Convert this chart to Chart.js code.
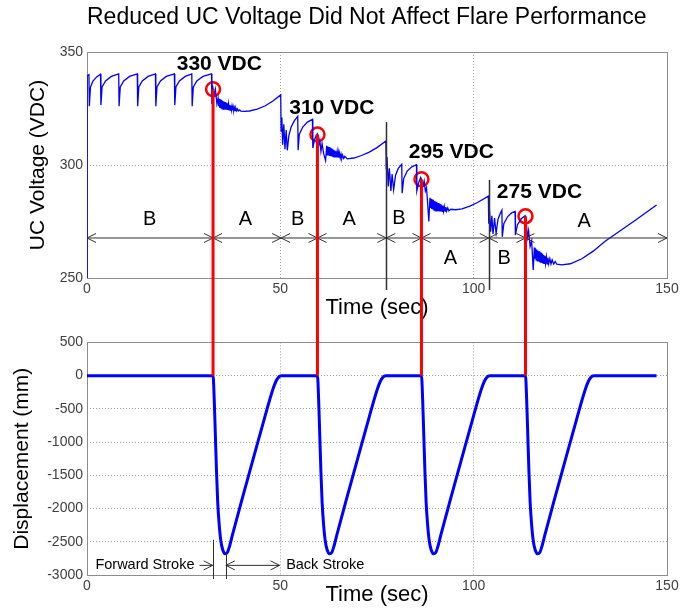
<!DOCTYPE html>
<html>
<head>
<meta charset="utf-8">
<title>Reduced UC Voltage Did Not Affect Flare Performance</title>
<script src="https://cdn.jsdelivr.net/npm/chart.js@4.4.1/dist/chart.umd.min.js"></script>
<style>
  body { margin: 0; background: #fff; }
  #wrap { position: relative; width: 683px; height: 608px; }
  #wrap canvas { position: absolute; left: 0; }
</style>
</head>
<body>
<div id="wrap">
  <canvas id="voltChart" width="683" height="330" style="top:0"></canvas>
  <canvas id="dispChart" width="683" height="278" style="top:330px"></canvas>
</div>
<script>
// Ultracapacitor voltage trace, [time (sec), voltage (VDC)]
const voltageTrace = [
  [0, 250], [0.05, 339.5],
  [0.5, 340], [0.6, 326], [0.9, 334.5], [1.5, 337], [2.5, 339],
  [3.5, 340.2], [3.6, 326.5], [3.9, 334.5], [4.8, 337.2], [6.3, 339.2],
  [8.2, 340.3], [8.3, 326], [8.6, 334.5], [9.5, 337.2], [11, 339.2],
  [13, 340.3], [13.1, 326], [13.4, 334.5], [14.3, 337.2], [15.8, 339.2],
  [17.7, 340.3], [17.8, 326], [18.1, 334.5], [19, 337.2], [20.5, 339.2],
  [22.6, 340.3], [22.7, 326.5], [23, 334.5], [23.9, 337.2], [25.4, 339.2],
  [27.1, 340.3], [27.2, 326], [27.5, 334.5], [28.4, 337.2], [30, 339.2],
  [32.2, 340.3], [32.3, 327], [32.6, 333.8], [32.9, 331], [33.2, 333.5], [33.6, 327],
  [33.9, 329.5], [34.05, 326], [34.2, 329.2], [34.35, 325.2], [34.5, 329], [34.65, 325],
  [34.8, 328.7], [34.95, 324.8], [35.1, 328.4], [35.25, 324.7], [35.4, 328.1], [35.55, 324.6],
  [35.7, 327.8], [35.85, 324.5], [36, 327.5], [36.15, 324.5], [36.3, 327.2], [36.45, 324.4],
  [36.6, 326.9], [36.75, 324.4], [36.9, 326.6], [37.05, 324.3], [37.2, 326.3], [37.35, 324.3],
  [37.5, 326], [37.65, 324.2], [37.8, 325.7], [37.95, 324.2], [38.1, 325.4], [38.3, 324.1],
  [38.5, 325.1], [38.7, 324], [38.9, 324.8], [39.2, 323.9], [39.5, 324.4], [39.8, 323.8],
  [40.7, 323.7], [42, 323.9], [44, 324.7], [46, 326.1], [48, 328.2], [50.1, 331],
  [50.2, 315], [50.4, 321], [50.6, 309], [50.9, 318], [51.2, 307], [51.5, 315.5],
  [51.8, 306.5], [52.2, 313], [52.8, 316.8], [53.6, 319.5], [54.5, 321.5], [54.6, 306.5],
  [54.9, 313.5], [55.8, 316.8], [57, 319], [58.3, 320.2], [58.4, 307.5], [58.8, 311],
  [59.3, 313.2], [59.6, 313.8], [59.9, 308.5], [60.2, 311], [60.5, 306], [60.8, 309.5],
  [61.2, 305], [61.7, 302],
  [62, 308.5], [62.15, 304.5], [62.3, 308.2], [62.45, 304.2], [62.6, 307.9], [62.75, 304],
  [62.9, 307.6], [63.05, 303.9], [63.2, 307.3], [63.35, 303.8], [63.5, 307], [63.65, 303.7],
  [63.8, 306.7], [63.95, 303.6], [64.1, 306.4], [64.25, 303.5], [64.4, 306.1], [64.55, 303.4],
  [64.7, 305.8], [64.85, 303.3], [65, 305.5], [65.15, 303.2], [65.3, 305.2], [65.5, 303.1],
  [65.7, 304.8], [65.9, 303], [66.1, 304.4], [66.4, 302.9], [66.7, 303.8],
  [67.3, 302.7], [69, 303.1], [71, 304.2], [73, 305.7], [75, 307.7], [77.3, 310.6],
  [77.4, 298], [77.6, 303.5], [77.9, 290.5], [78.2, 298.5], [78.6, 288.5], [78.9, 296],
  [79.3, 289], [79.8, 295.5], [80.5, 298.5], [81.4, 300.3], [81.5, 287.5], [81.9, 294],
  [82.8, 297.3], [84, 299.2], [85.2, 300.1], [85.3, 288.5], [85.8, 292.3], [86.3, 294.5],
  [86.6, 293.2], [86.9, 291], [87.2, 293], [87.5, 288.5], [87.8, 290], [88.1, 283],
  [88.4, 275],
  [88.7, 285.5], [88.85, 281], [89, 285], [89.15, 280.6], [89.3, 284.7], [89.45, 280.3],
  [89.6, 284.4], [89.75, 280], [89.9, 284.1], [90.05, 279.8], [90.2, 283.8], [90.35, 279.7],
  [90.5, 283.5], [90.65, 279.6], [90.8, 283.2], [90.95, 279.5], [91.1, 282.9], [91.25, 279.5],
  [91.4, 282.6], [91.55, 279.5], [91.7, 282.3], [91.85, 279.5], [92, 282], [92.2, 279.5],
  [92.4, 281.7], [92.6, 279.6], [92.8, 281.4], [93, 279.6], [93.3, 281], [93.6, 279.7],
  [94.1, 280.4], [95.3, 280.2], [97, 280.6], [99, 281.8], [101, 283.4], [103.8, 286.2],
  [103.9, 274], [104.1, 280], [104.4, 270.5], [104.7, 277.5], [105, 269.5], [105.4, 276.5],
  [105.8, 269.8], [106.3, 276], [106.9, 278.6], [107.3, 280], [107.4, 268.3], [107.8, 274],
  [108.8, 277.2], [109.8, 278.8], [110.7, 279.4], [110.8, 269], [111.3, 273.5], [112.3, 276.2],
  [113.3, 277.6], [113.6, 275], [113.9, 268], [114.2, 271], [114.6, 264], [115, 266.5],
  [115.4, 253.5],
  [115.7, 263.5], [115.85, 258.5], [116, 263], [116.15, 258], [116.3, 262.6], [116.45, 257.6],
  [116.6, 262.2], [116.75, 257.3], [116.9, 261.8], [117.05, 257], [117.2, 261.4], [117.35, 256.8],
  [117.5, 261], [117.65, 256.7], [117.8, 260.6], [117.95, 256.6], [118.1, 260.2], [118.25, 256.5],
  [118.4, 259.8], [118.6, 256.4], [118.8, 259.4], [119, 256.3], [119.2, 259], [119.4, 256.3],
  [119.7, 258.5], [120, 256.2], [120.3, 258], [120.7, 256.2], [121.1, 257.3],
  [121.5, 256.1], [122.8, 255.8], [125, 256.3], [128, 258.5],
  [131, 262], [134, 266.3], [138, 271], [142, 275.8], [147.3, 282.3]
];

// Actuator displacement trace, [time (sec), displacement (mm)]
const displacementTrace = [
  [0, 0], [32.6, 0], [32.9, -350], [33.2, -900], [33.5, -1450], [33.8, -1900], [34.2, -2250],
  [34.6, -2480], [35.1, -2620], [35.7, -2680], [36.3, -2660], [36.9, -2560], [37.6, -2400],
  [40, -1880], [43, -1250], [46, -620], [48, -220], [49, -70], [49.8, -10], [50.4, 0],
  [59.6, 0], [59.9, -350], [60.2, -900], [60.5, -1450], [60.8, -1900], [61.2, -2250],
  [61.6, -2480], [62.1, -2620], [62.7, -2680], [63.3, -2660], [63.9, -2560], [64.6, -2400],
  [67, -1880], [70, -1250], [73, -620], [75, -220], [76, -70], [76.8, -10], [77.4, 0],
  [86.5, 0], [86.8, -350], [87.1, -900], [87.4, -1450], [87.7, -1900], [88.1, -2250],
  [88.5, -2480], [89, -2620], [89.6, -2680], [90.2, -2660], [90.8, -2560], [91.5, -2400],
  [93.9, -1880], [96.9, -1250], [99.9, -620], [101.9, -220], [102.9, -70], [103.7, -10], [104.3, 0],
  [113.4, 0], [113.7, -350], [114, -900], [114.3, -1450], [114.6, -1900], [115, -2250],
  [115.4, -2480], [115.9, -2620], [116.5, -2680], [117.1, -2660], [117.7, -2560], [118.4, -2400],
  [120.8, -1880], [123.8, -1250], [126.8, -620], [128.8, -220], [129.8, -70], [130.6, -10],
  [131.2, 0], [147.3, 0]
];

// Flare events (circled on the voltage trace)
const eventTime = [32.6, 59.6, 86.5, 113.4];
const eventVolt = [333.5, 313.5, 293.7, 277.3];
const eventLabels = ['330 VDC', '310 VDC', '295 VDC', '275 VDC'];

// Charging phases
const phaseBounds = [0, 32.6, 50.2, 59.6, 77.4, 86.5, 103.9, 113.4, 150];
const phaseNames = ['B', 'A', 'B', 'A', 'B', 'A', 'B', 'A'];

// Axis ticks
const timeTicks = [0, 50, 100, 150];
const voltTicks = [250, 300, 350];
const dispTicks = [-3000, -2500, -2000, -1500, -1000, -500, 0, 500];

// Where the annotations sit, in data units
const eventLabelPos = [[23.2, 344.5], [52.3, 325], [83.2, 305.5], [106, 288]];
const phaseLabelPos = [[16.2, 275.7], [41, 275.7], [54.5, 275.7], [67.8, 275.7],
                       [80.7, 276.5], [94, 258.8], [107.9, 258.8], [128.6, 274.8]];
const arrowVolt = 267.7;
const dividers = [[77.4, 319], [103.9, 293.4]];

Chart.defaults.font.family = '"Liberation Sans", Arial, sans-serif';
Chart.defaults.color = '#404040';

function toPoints(trace) {
  return trace.map(p => ({ x: p[0], y: p[1] }));
}

function drawFrame(chart) {
  const { ctx, chartArea: a } = chart;
  ctx.save();
  ctx.strokeStyle = '#8c8c8c';
  ctx.lineWidth = 1;
  ctx.strokeRect(Math.round(a.left) + 0.5, Math.round(a.top) + 0.5,
                 Math.round(a.right - a.left), Math.round(a.bottom - a.top));
  ctx.restore();
}

function drawArrow(ctx, x0, x1, y, headStart, headEnd) {
  ctx.beginPath();
  ctx.moveTo(x0, y);
  ctx.lineTo(x1, y);
  if (headStart) {
    ctx.moveTo(x0 + 9, y - 4.5); ctx.lineTo(x0, y); ctx.lineTo(x0 + 9, y + 4.5);
  }
  if (headEnd) {
    ctx.moveTo(x1 - 9, y - 4.5); ctx.lineTo(x1, y); ctx.lineTo(x1 - 9, y + 4.5);
  }
  ctx.stroke();
}

function gridColor(ticks) {
  const lo = ticks[0], hi = ticks[ticks.length - 1];
  return c => (c.tick && (c.tick.value === lo || c.tick.value === hi)) ? 'rgba(0,0,0,0)' : '#a0a0a0';
}

const voltDecor = {
  id: 'voltDecor',
  beforeDatasetsDraw(chart) { drawFrame(chart); },
  afterDatasetsDraw(chart) {
    const { ctx, scales: { x, y } } = chart;
    ctx.save();
    ctx.strokeStyle = '#303030';
    ctx.lineWidth = 1;
    const ay = y.getPixelForValue(arrowVolt);
    for (let i = 0; i < phaseNames.length; i++) {
      drawArrow(ctx, x.getPixelForValue(phaseBounds[i]), x.getPixelForValue(phaseBounds[i + 1]), ay, true, true);
    }
    ctx.lineWidth = 1.5;
    dividers.forEach(d => {
      const dx = Math.round(x.getPixelForValue(d[0])) + 0.5;
      ctx.beginPath();
      ctx.moveTo(dx, y.getPixelForValue(d[1]));
      ctx.lineTo(dx, chart.chartArea.bottom + 12);
      ctx.stroke();
    });
    ctx.fillStyle = '#000';
    ctx.textAlign = 'center';
    ctx.textBaseline = 'middle';
    ctx.font = '20px "Liberation Sans", Arial, sans-serif';
    phaseNames.forEach((n, i) => {
      ctx.fillText(n, x.getPixelForValue(phaseLabelPos[i][0]), y.getPixelForValue(phaseLabelPos[i][1]));
    });
    ctx.textAlign = 'left';
    ctx.font = 'bold 21px "Liberation Sans", Arial, sans-serif';
    eventLabels.forEach((t, i) => {
      ctx.fillText(t, x.getPixelForValue(eventLabelPos[i][0]), y.getPixelForValue(eventLabelPos[i][1]));
    });
    ctx.restore();
  },
  afterDraw(chart) {
    const { ctx, scales: { x, y } } = chart;
    ctx.save();
    ctx.strokeStyle = '#ff0000';
    ctx.lineWidth = 3;
    eventTime.forEach((t, i) => {
      const px = x.getPixelForValue(t);
      ctx.beginPath();
      ctx.moveTo(px, y.getPixelForValue(eventVolt[i]));
      ctx.lineTo(px, chart.height);
      ctx.stroke();
    });
    ctx.restore();
  }
};

const dispDecor = {
  id: 'dispDecor',
  beforeDatasetsDraw(chart) { drawFrame(chart); },
  afterDatasetsDraw(chart) {
    const { ctx, scales: { x, y } } = chart;
    const bottom = chart.chartArea.bottom + 4;
    const ay = y.getPixelForValue(-2855);
    ctx.save();
    ctx.strokeStyle = '#303030';
    ctx.lineWidth = 1;
    [[32.6, -2470], [35.9, -2670]].forEach(m => {
      const mx = Math.round(x.getPixelForValue(m[0])) + 0.5;
      ctx.beginPath();
      ctx.moveTo(mx, y.getPixelForValue(m[1]));
      ctx.lineTo(mx, bottom);
      ctx.stroke();
    });
    drawArrow(ctx, x.getPixelForValue(29.1), x.getPixelForValue(32.5), ay, false, true);
    drawArrow(ctx, x.getPixelForValue(35.9), x.getPixelForValue(49.8), ay, true, true);
    ctx.fillStyle = '#000';
    ctx.textBaseline = 'middle';
    ctx.font = '14.5px "Liberation Sans", Arial, sans-serif';
    ctx.textAlign = 'right';
    ctx.fillText('Forward Stroke', x.getPixelForValue(27.8), ay);
    ctx.textAlign = 'left';
    ctx.fillText('Back Stroke', x.getPixelForValue(51.5), ay);
    ctx.restore();
  },
  afterDraw(chart) {
    const { ctx, scales: { x, y } } = chart;
    ctx.save();
    ctx.strokeStyle = '#ff0000';
    ctx.lineWidth = 3;
    eventTime.forEach(t => {
      const px = x.getPixelForValue(t);
      ctx.beginPath();
      ctx.moveTo(px, 0);
      ctx.lineTo(px, y.getPixelForValue(0));
      ctx.stroke();
    });
    ctx.restore();
  }
};

function timeAxis(height, titlePadBottom) {
  return {
    type: 'linear',
    min: timeTicks[0],
    max: timeTicks[timeTicks.length - 1],
    afterFit: s => { s.height = height; },
    ticks: { stepSize: 50, padding: 3, font: { size: 14 }, maxRotation: 0, callback: v => String(v) },
    grid: { color: gridColor(timeTicks), drawTicks: false, lineWidth: 1 },
    border: { display: false, dash: [1, 2] },
    title: { display: true, text: 'Time (sec)', color: '#000', font: { size: 22 },
             padding: { top: 0, bottom: titlePadBottom } }
  };
}

function valueAxis(ticks, step, label, titlePadTop) {
  return {
    min: ticks[0],
    max: ticks[ticks.length - 1],
    afterFit: s => { s.width = 87; },
    ticks: { stepSize: step, padding: 4, font: { size: 14 }, callback: v => String(v) },
    grid: { color: gridColor(ticks), drawTicks: false, lineWidth: 1 },
    border: { display: false, dash: [1, 2] },
    title: { display: true, text: label, color: '#000', font: { size: 21 },
             padding: { top: titlePadTop, bottom: 0 } }
  };
}

function createVoltChart() {
  new Chart(document.getElementById('voltChart'), {
    type: 'line',
    data: {
      datasets: [{
        label: 'UC Voltage',
        data: toPoints(voltageTrace),
        borderColor: '#0000ff',
        borderWidth: 1.3,
        pointRadius: 0,
        tension: 0
      }, {
        label: 'Flare events',
        data: eventTime.map((t, i) => ({ x: t, y: eventVolt[i] })),
        showLine: false,
        pointRadius: 7,
        pointBorderWidth: 2.5,
        pointBorderColor: '#ff0000',
        pointBackgroundColor: 'rgba(0,0,0,0)'
      }]
    },
    options: {
      responsive: false,
      animation: false,
      layout: { padding: { left: 0, right: 16, top: 0, bottom: 0 } },
      scales: {
        x: timeAxis(52, 8.8),
        y: valueAxis(voltTicks, 50, 'UC Voltage (VDC)', 25.4)
      },
      plugins: {
        legend: { display: false },
        tooltip: { enabled: false },
        title: {
          display: true,
          text: 'Reduced UC Voltage Did Not Affect Flare Performance',
          color: '#000',
          align: 'start',
          fullSize: false,
          font: { size: 23, weight: 'normal' },
          padding: { top: 4, bottom: 20.4 }
        }
      }
    },
    plugins: [voltDecor]
  });
}

function createDispChart() {
  new Chart(document.getElementById('dispChart'), {
    type: 'line',
    data: {
      datasets: [{
        label: 'Displacement',
        data: toPoints(displacementTrace),
        borderColor: '#0000ff',
        borderWidth: 3,
        pointRadius: 0,
        cubicInterpolationMode: 'monotone'
      }]
    },
    options: {
      responsive: false,
      animation: false,
      layout: { padding: { left: 0, right: 16, top: 12, bottom: 0 } },
      scales: {
        x: timeAxis(33, 0),
        y: valueAxis(dispTicks, 500, 'Displacement (mm)', 9.4)
      },
      plugins: {
        legend: { display: false },
        tooltip: { enabled: false }
      }
    },
    plugins: [dispDecor]
  });
}

createVoltChart();
createDispChart();
</script>
</body>
</html>
